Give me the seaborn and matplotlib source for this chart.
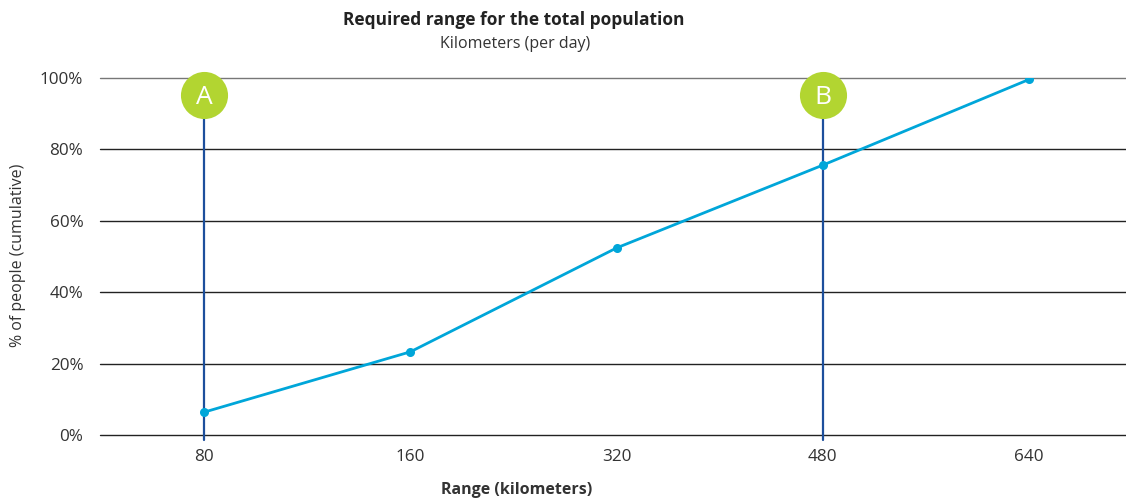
import matplotlib.pyplot as plt
import pandas as pd
import seaborn as sns

# data
RANGE_KM = ["80", "160", "320", "480", "640"]
PCT_PEOPLE = [6.4, 23.3, 52.4, 75.6, 99.6]
Y_TICKS = [0, 20, 40, 60, 80, 100]
MARKERS = [("A", "80"), ("B", "480")]
MARKER_Y = 95.2

LINE_BLUE = "#00a6d9"
DARK_BLUE = "#1d4f9c"
GREEN = "#b2d531"
TEXT = "#333333"

sns.set_theme(style="white")
plt.rcParams["font.family"] = ["Open Sans", "DejaVu Sans"]

df = pd.DataFrame({"range": RANGE_KM, "pct": PCT_PEOPLE})

fig = plt.figure(figsize=(11.26, 5.01), dpi=100)
ax = fig.add_axes([100 / 1126, 66 / 501, 1026 / 1126, 357 / 501])

for t in Y_TICKS:
    ax.axhline(t, color="#777777" if t == 100 else "#222222", lw=1.0, zorder=1, clip_on=False)

# vertical marker lines with lettered badges
for label, cat in MARKERS:
    xi = RANGE_KM.index(cat)
    ax.plot([xi, xi], [-1.5, MARKER_Y], color=DARK_BLUE, lw=1.6, zorder=2, clip_on=False)
    ax.scatter([xi], [MARKER_Y], s=1150, color=GREEN, zorder=5, clip_on=False, linewidths=0)
    ax.text(xi, MARKER_Y - 0.6, label, color="white", fontsize=19, ha="center", va="center", zorder=6)

sns.pointplot(data=df, x="range", y="pct", order=RANGE_KM, color=LINE_BLUE,
              markers="o", markersize=5, linewidth=2.0, ax=ax, zorder=4)

ax.set_xlim(-0.505, 4.47)
ax.set_ylim(0, 100)
ax.set_yticks(Y_TICKS)
ax.set_yticklabels([f"{t}%" for t in Y_TICKS])
for s in ax.spines.values():
    s.set_visible(False)
ax.tick_params(axis="both", length=0, labelsize=12.3, labelcolor=TEXT)
ax.tick_params(axis="x", pad=10)
ax.tick_params(axis="y", pad=12)
ax.set_xlabel("")
ax.set_ylabel("")

fig.text(18 / 1126, 1 - 255 / 501, "% of people (cumulative)", rotation=90, ha="center", va="center",
         fontsize=11.5, color=TEXT)
fig.text(517 / 1126, 1 - 490 / 501, "Range (kilometers)", ha="center", va="center",
         fontsize=11.5, fontweight="bold", color=TEXT)
fig.text(514 / 1126, 1 - 20 / 501, "Required range for the total population", ha="center", va="center",
         fontsize=12.5, fontweight="bold", color="#222222")
fig.text(515 / 1126, 1 - 44 / 501, "Kilometers (per day)", ha="center", va="center",
         fontsize=11.5, color=TEXT)

fig.savefig("out.png", dpi=100)
